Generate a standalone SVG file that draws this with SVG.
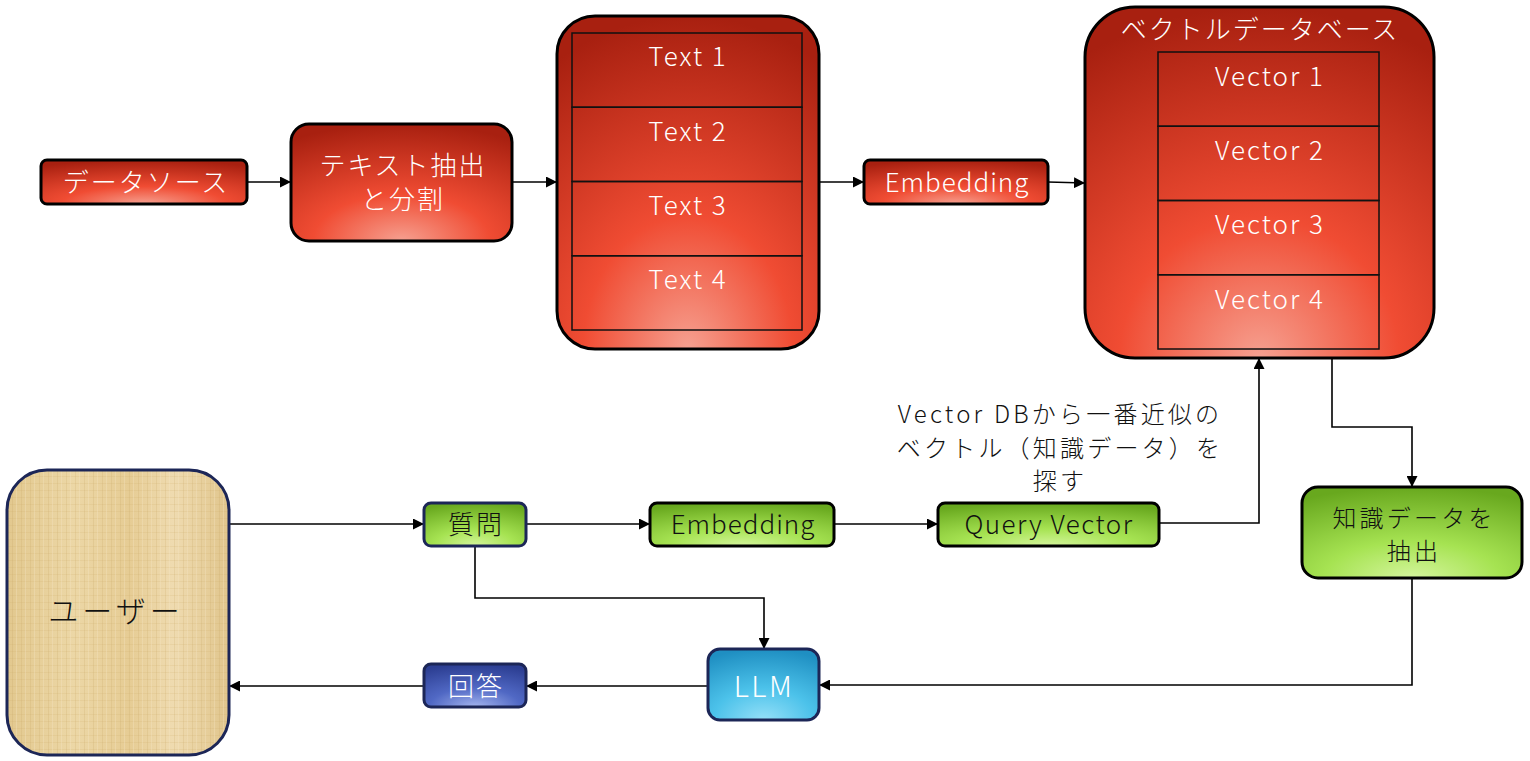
<svg xmlns="http://www.w3.org/2000/svg" width="1530" height="761" viewBox="0 0 1530 761">
<style>
text{font-family:"Noto Sans CJK JP","Noto Sans",sans-serif;font-weight:300;text-anchor:middle;dominant-baseline:central;font-size:26px;letter-spacing:2px}
.w{fill:#ffffff}
.k{fill:#111111}
.t2{font-size:24px;letter-spacing:3.2px}
.red{fill:url(#gRed);stroke:#000;stroke-width:3}
.grn{fill:url(#gGrn);stroke:#000;stroke-width:3}
.nv{stroke:#1c2657;stroke-width:3}
.row{fill:none;stroke:#111;stroke-width:1.5}
.c{fill:none;stroke:#000;stroke-width:1.6}
</style>
<defs>
<radialGradient id="gRed" cx="0.5" cy="1" r="1">
<stop offset="0" stop-color="#f6a090"/>
<stop offset="0.4" stop-color="#f04c33"/>
<stop offset="1" stop-color="#a82010"/>
</radialGradient>
<radialGradient id="gGrn" cx="0.5" cy="1" r="1">
<stop offset="0" stop-color="#d4f59c"/>
<stop offset="0.4" stop-color="#a6e352"/>
<stop offset="1" stop-color="#68a81e"/>
</radialGradient>
<radialGradient id="gBlu" cx="0.5" cy="1" r="1">
<stop offset="0" stop-color="#95e0f8"/>
<stop offset="0.45" stop-color="#4cc2ea"/>
<stop offset="1" stop-color="#1f8fc2"/>
</radialGradient>
<radialGradient id="gNav" cx="0.5" cy="1" r="1">
<stop offset="0" stop-color="#a3b4ee"/>
<stop offset="0.45" stop-color="#5068c4"/>
<stop offset="1" stop-color="#2c3e92"/>
</radialGradient>
<linearGradient id="gWood" x1="0" y1="0" x2="1" y2="0">
<stop offset="0" stop-color="#e2c88e"/>
<stop offset="0.3" stop-color="#ecd7a6"/>
<stop offset="0.55" stop-color="#e6cc94"/>
<stop offset="0.75" stop-color="#efdbb0"/>
<stop offset="1" stop-color="#e0c58c"/>
</linearGradient>
<pattern id="pWood" width="9" height="7" patternUnits="userSpaceOnUse">
<path d="M0 0.5H9" stroke="#c9a86a" stroke-width="0.6" opacity="0.3"/>
<path d="M3.5 0V7" stroke="#c4a363" stroke-width="0.7" opacity="0.3"/>
<path d="M7.5 0V7" stroke="#f5e6c4" stroke-width="0.8" opacity="0.4"/>
</pattern>
<marker id="arr" viewBox="0 0 10 10" refX="10" refY="5" markerWidth="11" markerHeight="11" markerUnits="userSpaceOnUse" orient="auto">
<path d="M0 0L10 5L0 10Z" fill="#000"/>
</marker>
</defs>

<g id="connectors">
<path class="c" marker-end="url(#arr)" d="M247 182H291"/>
<path class="c" marker-end="url(#arr)" d="M512 182H557"/>
<path class="c" marker-end="url(#arr)" d="M819 182H864"/>
<path class="c" marker-end="url(#arr)" d="M1048 182L1085 183"/>
<path class="c" marker-end="url(#arr)" d="M229 524H424"/>
<path class="c" marker-end="url(#arr)" d="M526 524H650"/>
<path class="c" marker-end="url(#arr)" d="M834 524H938"/>
<path class="c" marker-end="url(#arr)" d="M1159 523H1259V358"/>
<path class="c" marker-end="url(#arr)" d="M1332 358V427H1412V487"/>
<path class="c" marker-end="url(#arr)" d="M475 546V598H764V649"/>
<path class="c" marker-end="url(#arr)" d="M1412 578V685H819"/>
<path class="c" marker-end="url(#arr)" d="M708 686H526"/>
<path class="c" marker-end="url(#arr)" d="M424 686H229"/>
</g>

<g id="datasource">
<rect class="red" x="41" y="160" width="206" height="44" rx="6"/>
<text class="w" x="146" y="180">データソース</text>
</g>

<g id="extract">
<rect class="red" x="291" y="124" width="221" height="117" rx="18"/>
<text class="w" x="403" y="163">テキスト抽出</text>
<text class="w" x="403" y="197">と分割</text>
</g>

<g id="texts">
<rect class="red" x="557" y="16" width="262" height="333" rx="38"/>
<rect class="row" x="572" y="33" width="230" height="74.25"/>
<rect class="row" x="572" y="107.25" width="230" height="74.25"/>
<rect class="row" x="572" y="181.5" width="230" height="74.25"/>
<rect class="row" x="572" y="255.75" width="230" height="74.25"/>
<text class="w" x="688" y="54">Text 1</text>
<text class="w" x="688" y="129">Text 2</text>
<text class="w" x="688" y="203">Text 3</text>
<text class="w" x="688" y="277">Text 4</text>
</g>

<g id="embedding-top">
<rect class="red" x="864" y="160" width="184" height="44" rx="6"/>
<text class="w" x="957" y="180" style="letter-spacing:1px">Embedding</text>
</g>

<g id="vectordb">
<rect class="red" x="1085" y="7" width="349" height="351" rx="50"/>
<text class="w" x="1260" y="27">ベクトルデータベース</text>
<rect class="row" x="1158" y="52" width="221" height="74.25"/>
<rect class="row" x="1158" y="126.25" width="221" height="74.25"/>
<rect class="row" x="1158" y="200.5" width="221" height="74.25"/>
<rect class="row" x="1158" y="274.75" width="221" height="74.25"/>
<text class="w" x="1270" y="74">Vector 1</text>
<text class="w" x="1270" y="148">Vector 2</text>
<text class="w" x="1270" y="222">Vector 3</text>
<text class="w" x="1270" y="297">Vector 4</text>
</g>

<g id="search-label">
<text class="k t2" x="1060" y="412">Vector DBから一番近似の</text>
<text class="k t2" x="1060" y="446">ベクトル（知識データ）を</text>
<text class="k t2" x="1060" y="479">探す</text>
</g>

<g id="user">
<rect x="7" y="470" width="222" height="285" rx="40" fill="url(#gWood)" stroke="none"/>
<rect x="7" y="470" width="222" height="285" rx="40" fill="url(#pWood)" class="nv"/>
<text class="k" x="116" y="609" style="font-size:30px;letter-spacing:4px">ユーザー</text>
</g>

<g id="question">
<rect x="424" y="503" width="102" height="43" rx="7" fill="url(#gGrn)" class="nv"/>
<text class="k" x="476" y="522">質問</text>
</g>

<g id="embedding-bottom">
<rect class="grn" x="650" y="503" width="184" height="43" rx="7"/>
<text class="k" x="743" y="522" style="letter-spacing:1px">Embedding</text>
</g>

<g id="query-vector">
<rect class="grn" x="938" y="503" width="221" height="43" rx="7"/>
<text class="k" x="1049" y="522" style="letter-spacing:1.5px">Query Vector</text>
</g>

<g id="extract-knowledge">
<rect class="grn" x="1302" y="487" width="220" height="91" rx="16"/>
<text class="k t2" x="1414" y="516">知識データを</text>
<text class="k t2" x="1414" y="549">抽出</text>
</g>

<g id="llm">
<rect x="708" y="649" width="111" height="71" rx="12" fill="url(#gBlu)" class="nv"/>
<text class="w" x="764" y="684" style="font-size:29px;letter-spacing:2.5px">LLM</text>
</g>

<g id="answer">
<rect x="424" y="664" width="102" height="43" rx="7" fill="url(#gNav)" class="nv"/>
<text class="w" x="476" y="684">回答</text>
</g>
</svg>
